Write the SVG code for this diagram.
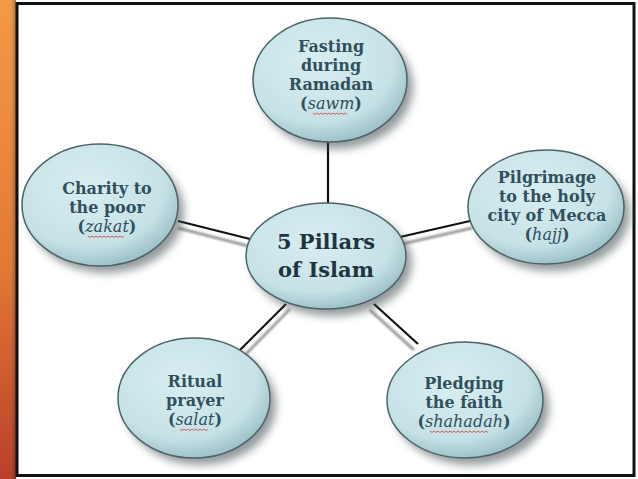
<svg xmlns="http://www.w3.org/2000/svg" width="638" height="479" viewBox="0 0 638 479">
<defs>
<linearGradient id="stripe" x1="0" y1="0" x2="0" y2="1">
<stop offset="0" stop-color="#f29a45"/>
<stop offset="0.55" stop-color="#e27a35"/>
<stop offset="1" stop-color="#b8402a"/>
</linearGradient>
<linearGradient id="stripeH" x1="0" y1="0" x2="1" y2="0">
<stop offset="0" stop-color="#ffffff" stop-opacity="0"/>
<stop offset="0.7" stop-color="#000000" stop-opacity="0"/>
<stop offset="1" stop-color="#000000" stop-opacity="0.25"/>
</linearGradient>
<radialGradient id="fill" cx="0.42" cy="0.35" r="0.65">
<stop offset="0" stop-color="#d8eef1"/>
<stop offset="0.75" stop-color="#c6e2e7"/>
<stop offset="1" stop-color="#9fc3ca"/>
</radialGradient>
<filter id="shadow" x="-20%" y="-20%" width="150%" height="150%">
<feGaussianBlur stdDeviation="4"/>
</filter>
<filter id="lblur" x="-10%" y="-10%" width="120%" height="120%">
<feGaussianBlur stdDeviation="1"/>
</filter>
</defs>
<style>
.node ellipse.body{fill:url(#fill);stroke:#4f6266;stroke-width:1.5}
.node ellipse.sh{fill:#3a4a4e;opacity:0.55;filter:url(#shadow)}
.lbl{font-family:"DejaVu Serif","Liberation Serif",serif;font-weight:bold;font-size:16px;fill:#30505c;text-anchor:middle}
.big{font-family:"DejaVu Serif","Liberation Serif",serif;font-weight:bold;font-size:21px;fill:#1e3540;text-anchor:middle}
.it{font-style:italic;font-weight:normal}
.sq{fill:none;stroke:#d23a3a;stroke-width:0.8}
.ln{stroke:#111;stroke-width:2.2}
.lns{stroke:#8a8a8a;stroke-width:2.5;filter:url(#lblur)}
</style>
<rect x="0" y="0" width="638" height="479" fill="#ffffff"/>
<rect x="0" y="0" width="16" height="479" fill="url(#stripe)"/>
<rect x="0" y="0" width="16" height="479" fill="url(#stripeH)"/>
<rect x="17" y="3.5" width="617" height="472" fill="none" stroke="#111" stroke-width="3"/>

<g id="connectors">
<line class="lns" x1="334" y1="142" x2="334" y2="204"/>
<line class="ln" x1="328" y1="142" x2="328" y2="204"/>
<line class="lns" x1="178" y1="228" x2="248" y2="246"/>
<line class="ln" x1="178" y1="221" x2="250" y2="239"/>
<line class="lns" x1="402" y1="244" x2="472" y2="228"/>
<line class="ln" x1="400" y1="237" x2="470" y2="221"/>
<line class="lns" x1="245" y1="355" x2="290" y2="309"/>
<line class="ln" x1="240" y1="350" x2="286" y2="304"/>
<line class="lns" x1="370" y1="310" x2="414" y2="350"/>
<line class="ln" x1="374" y1="304" x2="418" y2="344"/>
</g>

<g id="center" class="node">
<ellipse class="sh" cx="332" cy="263" rx="80" ry="53"/>
<ellipse class="body" cx="326" cy="256" rx="80" ry="53"/>
<text class="big" x="326" y="249">5 Pillars</text>
<text class="big" x="326" y="277">of Islam</text>
</g>

<g id="fasting" class="node">
<ellipse class="sh" cx="336" cy="87" rx="77" ry="62"/>
<ellipse class="body" cx="330" cy="80" rx="77" ry="62"/>
<text class="lbl" x="331" y="52">Fasting</text>
<text class="lbl" x="331" y="71">during</text>
<text class="lbl" x="331" y="90">Ramadan</text>
<text class="lbl" x="331" y="109">(<tspan class="it">sawm</tspan>)</text>
<path class="sq" d="M313 113 l2 1.5 l2 -1.5 l2 1.5 l2 -1.5 l2 1.5 l2 -1.5 l2 1.5 l2 -1.5 l2 1.5 l2 -1.5 l2 1.5 l2 -1.5 l2 1.5 l2 -1.5 l2 1.5 l2 -1.5 l2 1.5"/>
</g>

<g id="charity" class="node">
<ellipse class="sh" cx="106" cy="212" rx="78" ry="61"/>
<ellipse class="body" cx="100" cy="205" rx="78" ry="61"/>
<text class="lbl" x="107" y="194">Charity to</text>
<text class="lbl" x="107" y="213">the poor</text>
<text class="lbl" x="107" y="232">(<tspan class="it">zakat</tspan>)</text>
<path class="sq" d="M88 236 l2 1.5 l2 -1.5 l2 1.5 l2 -1.5 l2 1.5 l2 -1.5 l2 1.5 l2 -1.5 l2 1.5 l2 -1.5 l2 1.5 l2 -1.5 l2 1.5 l2 -1.5 l2 1.5 l2 -1.5 l2 1.5 l2 -1.5"/>
</g>

<g id="pilgrimage" class="node">
<ellipse class="sh" cx="552" cy="214" rx="78" ry="57"/>
<ellipse class="body" cx="546" cy="207" rx="78" ry="57"/>
<text class="lbl" x="547" y="183">Pilgrimage</text>
<text class="lbl" x="547" y="202">to the holy</text>
<text class="lbl" x="547" y="221">city of Mecca</text>
<text class="lbl" x="547" y="240">(<tspan class="it">hajj</tspan>)</text>
</g>

<g id="ritual" class="node">
<ellipse class="sh" cx="200" cy="405" rx="76" ry="60"/>
<ellipse class="body" cx="194" cy="398" rx="76" ry="60"/>
<text class="lbl" x="195" y="387">Ritual</text>
<text class="lbl" x="195" y="406">prayer</text>
<text class="lbl" x="195" y="425">(<tspan class="it">salat</tspan>)</text>
<path class="sq" d="M180 429 l2 1.5 l2 -1.5 l2 1.5 l2 -1.5 l2 1.5 l2 -1.5 l2 1.5 l2 -1.5 l2 1.5 l2 -1.5 l2 1.5 l2 -1.5 l2 1.5 l2 -1.5"/>
</g>

<g id="pledging" class="node">
<ellipse class="sh" cx="471" cy="407" rx="78" ry="58"/>
<ellipse class="body" cx="465" cy="400" rx="78" ry="58"/>
<text class="lbl" x="464" y="389">Pledging</text>
<text class="lbl" x="464" y="408">the faith</text>
<text class="lbl" x="464" y="427">(<tspan class="it">shahadah</tspan>)</text>
<path class="sq" d="M430 431 l2 1.5 l2 -1.5 l2 1.5 l2 -1.5 l2 1.5 l2 -1.5 l2 1.5 l2 -1.5 l2 1.5 l2 -1.5 l2 1.5 l2 -1.5 l2 1.5 l2 -1.5 l2 1.5 l2 -1.5 l2 1.5 l2 -1.5 l2 1.5 l2 -1.5 l2 1.5 l2 -1.5 l2 1.5 l2 -1.5 l2 1.5 l2 -1.5 l2 1.5 l2 -1.5 l2 1.5"/>
</g>
</svg>
